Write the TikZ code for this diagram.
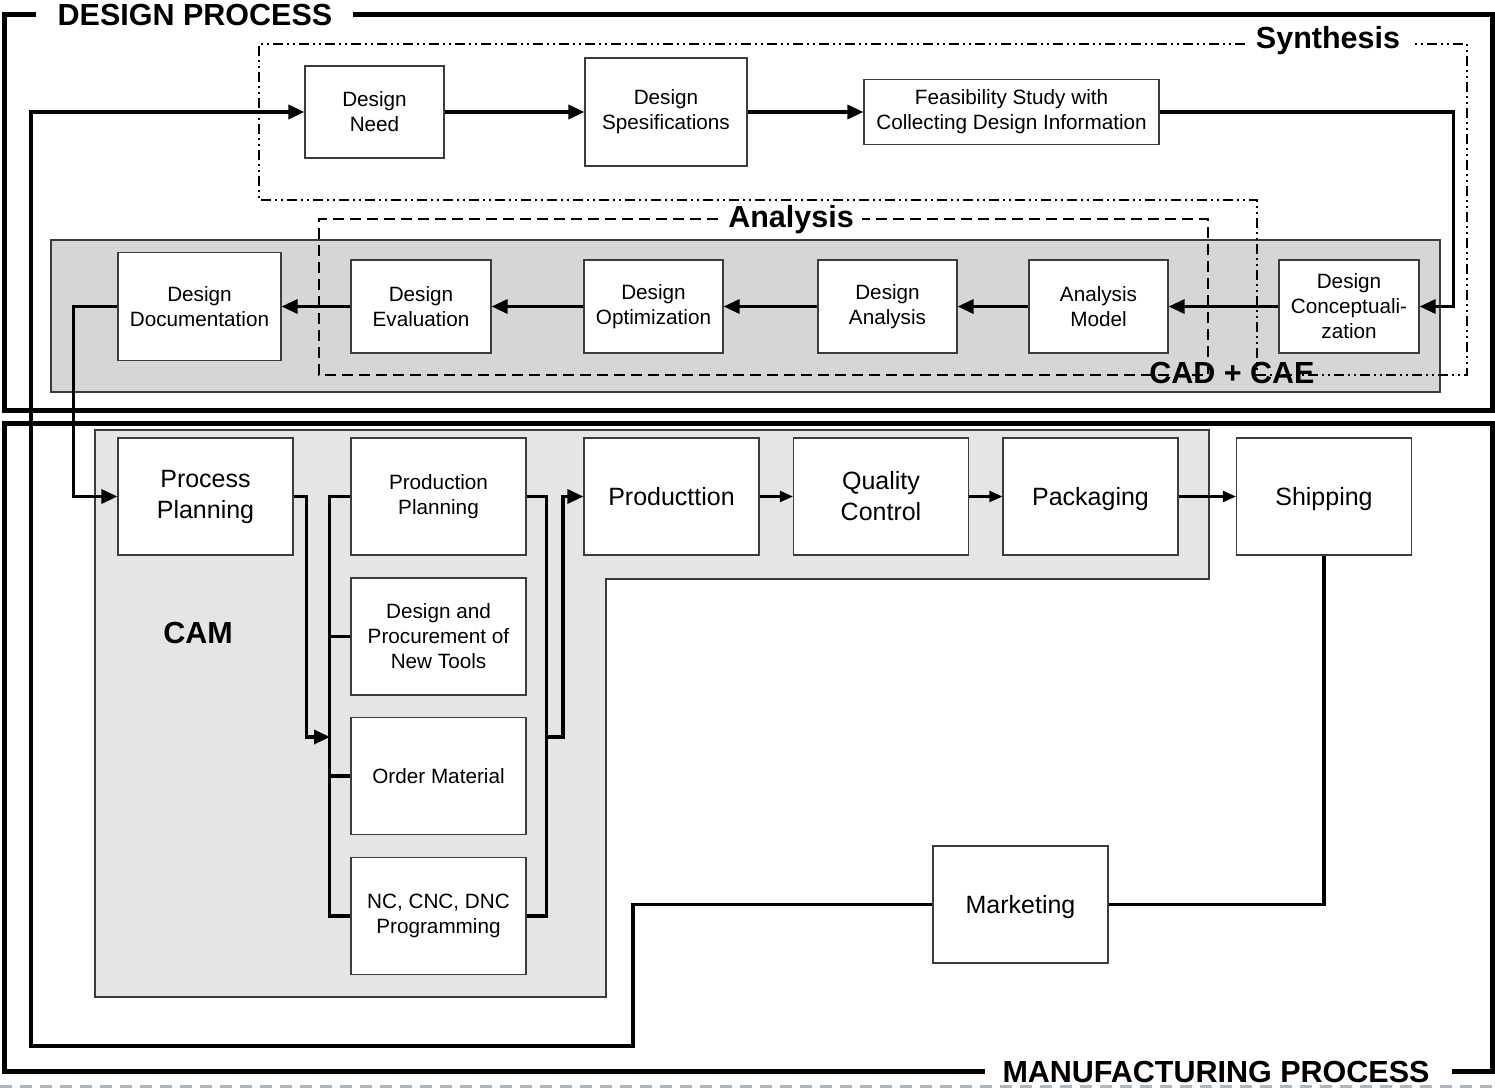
\documentclass[tikz,border=0pt]{standalone}
\usepackage{fontspec}
\setmainfont{Liberation Sans}
\usetikzlibrary{arrows.meta}
\definecolor{boxline}{RGB}{60,60,60}
\definecolor{camfill}{RGB}{229,229,229}
\definecolor{cadfill}{RGB}{214,214,214}
\definecolor{pageline}{RGB}{165,185,205}
\begin{document}
\begin{tikzpicture}[x=1pt,y=-1pt,
  box/.style={draw=boxline, line width=1.2pt, fill=white, inner sep=0pt, align=center,
    font=\fontsize{20.7}{25}\selectfont},
  bigbox/.style={box, font=\fontsize{25}{31}\selectfont},
  conn/.style={line width=3.3pt, -{Triangle[length=16pt,width=14pt]}},
  bus/.style={line width=3.3pt},
  thinconn/.style={line width=2.2pt, -{Triangle[length=13pt,width=11pt]}},
  frame/.style={line width=5pt},
  head/.style={font=\bfseries\fontsize{30.5}{36}\selectfont, inner sep=0pt},
  dashdotdot/.style={line width=1.3pt, dash pattern=on 10pt off 4pt on 2pt off 4pt on 2pt off 4pt},
  dashbox/.style={line width=1.3pt, dash pattern=on 11pt off 6pt}
]
\useasboundingbox (0,0) rectangle (1495,1089);

% page dashed line at bottom
\draw[pageline, line width=3pt, dash pattern=on 12pt off 8pt] (0,1086) -- (1495,1086);

% frames
\draw[frame] (36,15) -- (4,15) -- (4,410) -- (1492,410) -- (1492,15) -- (353,15);
\node[head] (hdes) at (195,15.5) {DESIGN PROCESS};
\draw[frame] (985,1071) -- (4,1071) -- (4,423) -- (1492,423) -- (1492,1071) -- (1452,1071);
\node[head, fill=white, inner xsep=2pt] (hman) at (1216,1072) {MANUFACTURING PROCESS};

% CAD + CAE region
\draw[boxline, line width=1.2pt, fill=cadfill] (51,240) rectangle (1440,392);
% CAM region
\draw[boxline, line width=1.2pt, fill=camfill] (95,430) -- (1209,430) -- (1209,579) -- (606,579)
  -- (606,997) -- (95,997) -- cycle;

% Synthesis box
\draw[dashdotdot] (1245,44) -- (259,44) -- (259,200) -- (1257,200) -- (1257,375)
  -- (1467,375) -- (1467,44) -- (1412,44);
\node[head] (hsyn) at (1328,41) {Synthesis};
% Analysis box
\draw[dashbox] (718,219) -- (319,219) -- (319,375) -- (1208,375) -- (1208,219) -- (862,219);
\node[head] (hana) at (791,220) {Analysis};
\node[head] (hcad) at (1232,373) {CAD + CAE};
\node[head] (hcam) at (198,633) {CAM};

% upper boxes
\node[box, minimum width=139pt, minimum height=92pt] (dneed) at (374.5,112) {Design\\Need};
\node[box, minimum width=162pt, minimum height=108pt] (dspec) at (666,112) {Design\\Spesifications};
\node[box, minimum width=295pt, minimum height=65pt] (feas) at (1011.5,112) {Feasibility Study with\\Collecting Design Information};

% middle row
\node[box, minimum width=140pt, minimum height=93pt] (dconc) at (1349,306.5) {Design\\Conceptuali-\\zation};
\node[box, minimum width=139pt, minimum height=93pt] (amod) at (1098.5,306.5) {Analysis\\Model};
\node[box, minimum width=139pt, minimum height=93pt] (dana) at (887.5,306.5) {Design\\Analysis};
\node[box, minimum width=139pt, minimum height=93pt] (dopt) at (653.5,306.5) {Design\\Optimization};
\node[box, minimum width=140pt, minimum height=93pt] (deval) at (421,306.5) {Design\\Evaluation};
\node[box, minimum width=163pt, minimum height=108pt] (ddoc) at (199.5,306.5) {Design\\Documentation};

% lower boxes
\node[bigbox, minimum width=175pt, minimum height=117pt] (pp) at (205.5,496.5) {Process\\Planning};
\node[box, minimum width=175pt, minimum height=117pt] (ppl) at (438.5,496.5) {Production\\Planning};
\node[box, minimum width=175pt, minimum height=117pt] (dpnt) at (438.5,636.5) {Design and\\Procurement of\\New Tools};
\node[box, minimum width=175pt, minimum height=117pt] (om) at (438.5,776) {Order Material};
\node[box, minimum width=175pt, minimum height=117pt] (nc) at (438.5,916) {NC, CNC, DNC\\Programming};
\node[bigbox, minimum width=175pt, minimum height=117pt] (prod) at (671.5,496.5) {Producttion};
\node[bigbox, minimum width=175pt, minimum height=117pt] (qc) at (881,496.5) {Quality\\Control};
\node[bigbox, minimum width=175pt, minimum height=117pt, text depth=0pt] (pack) at (1090.5,496.5) {Packaging};
\node[bigbox, minimum width=175pt, minimum height=117pt, text depth=0pt] (ship) at (1324,496.5) {Shipping};
\node[bigbox, minimum width=175pt, minimum height=117pt, text depth=0pt] (mkt) at (1020.5,904.5) {Marketing};

% connectors: synthesis
\draw[conn] (dneed.east) -- (dspec.west);
\draw[conn] (dspec.east) -- (feas.west);
\draw[conn] (feas.east) -| ([xshift=34pt]dconc.east) -- (dconc.east);
% analysis chain
\draw[conn] (dconc.west) -- (amod.east);
\draw[conn] (amod.west) -- (dana.east);
\draw[conn] (dana.west) -- (dopt.east);
\draw[conn] (dopt.west) -- (deval.east);
\draw[conn] (deval.west) -- (ddoc.east);
\draw[conn] (ddoc.west) -- ([xshift=-44pt]ddoc.west) |- (pp.west);

% CAM buses
\coordinate (jL) at (330,737);
\coordinate (jR) at (546,737);
\draw[conn] (pp.east) -- ++(13,0) |- (jL);
\draw[bus] (ppl.west) -- ++(-21,0) |- (nc.west);
\draw[bus] (dpnt.west) -- ++(-21,0);
\draw[bus] (om.west) -- ++(-21,0);
\draw[bus] (ppl.east) -- ++(20,0) |- (nc.east);
\draw[conn] (jR) -- ++(17,0) |- (prod.west);

% production chain
\draw[thinconn] (prod.east) -- (qc.west);
\draw[thinconn] (qc.east) -- (pack.west);
\draw[thinconn] (pack.east) -- (ship.west);
\draw[bus] (ship.south) |- (mkt.east);

% feedback loop
\coordinate (l1) at (633,1046);
\coordinate (l2) at (31,1046);
\draw[conn] (mkt.west) -| (l1) -- (l2) |- (dneed.west);
\end{tikzpicture}
\end{document}
